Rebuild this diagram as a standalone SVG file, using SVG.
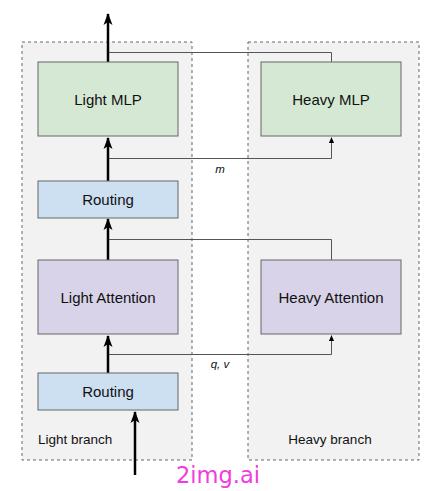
<svg xmlns="http://www.w3.org/2000/svg" width="437" height="491" viewBox="0 0 437 491">
<defs>
<marker id="bigh" viewBox="0 0 12 10" refX="11" refY="5" markerWidth="12" markerHeight="10" orient="auto" markerUnits="userSpaceOnUse">
<path d="M0,0.5 L12,5 L0,9.5 L3,5 Z" fill="#000"/>
</marker>
<marker id="small" viewBox="0 0 8 8" refX="7.5" refY="4" markerWidth="6" markerHeight="6" orient="auto" markerUnits="userSpaceOnUse">
<path d="M0,0.5 L8,4 L0,7.5 Z" fill="#000"/>
</marker>
</defs>
<style>
.cont{fill:#f2f2f2;stroke:#666;stroke-width:1;stroke-dasharray:3 3}
.box{stroke:#666;stroke-width:1}
.g{fill:#d5e8d4}
.b{fill:#cce0f2}
.p{fill:#d8d3e8}
.t{font-family:"Liberation Sans",Arial,sans-serif;font-size:15px;fill:#111;text-anchor:middle;dominant-baseline:central}
.s{font-family:"Liberation Sans",Arial,sans-serif;font-size:13.5px;fill:#111}
.i{font-family:"Liberation Sans",Arial,sans-serif;font-size:11.5px;font-style:italic;fill:#111;text-anchor:middle}
.thin{fill:none;stroke:#555;stroke-width:1}
.thick{fill:none;stroke:#000;stroke-width:2.5}
</style>
<g id="light-branch">
<rect class="cont" x="22" y="42" width="170" height="418"/>
<text class="s" x="38" y="444">Light branch</text>
</g>
<g id="heavy-branch">
<rect class="cont" x="248" y="42" width="171" height="418"/>
<text class="s" x="330" y="444" text-anchor="middle">Heavy branch</text>
</g>
<g id="connectors">
<path class="thin" d="M108,52.5 H331.5 V62"/>
<path class="thin" d="M108,158.5 H331.5 V137.5" marker-end="url(#small)"/>
<path class="thin" d="M108,239.5 H331.5 V260"/>
<path class="thin" d="M108,354.5 H331.5 V335.5" marker-end="url(#small)"/>
<path class="thick" d="M108,62 V14" marker-end="url(#bigh)"/>
<path class="thick" d="M108,181 V138" marker-end="url(#bigh)"/>
<path class="thick" d="M108,260 V219" marker-end="url(#bigh)"/>
<path class="thick" d="M108,373 V336" marker-end="url(#bigh)"/>
<path class="thick" d="M135,475 V412" marker-end="url(#bigh)"/>
<text class="i" x="220" y="173">m</text>
<text class="i" x="220" y="368">q, v</text>
</g>
<g id="light-mlp">
<rect class="box g" x="38" y="62" width="140" height="74"/>
<text class="t" x="108" y="99">Light MLP</text>
</g>
<g id="heavy-mlp">
<rect class="box g" x="261" y="62" width="140" height="74"/>
<text class="t" x="331" y="99">Heavy MLP</text>
</g>
<g id="routing-top">
<rect class="box b" x="38" y="181" width="140" height="37"/>
<text class="t" x="108" y="199.5">Routing</text>
</g>
<g id="light-attention">
<rect class="box p" x="38" y="260" width="140" height="74"/>
<text class="t" x="108" y="297">Light Attention</text>
</g>
<g id="heavy-attention">
<rect class="box p" x="261" y="260" width="140" height="74"/>
<text class="t" x="331" y="297">Heavy Attention</text>
</g>
<g id="routing-bottom">
<rect class="box b" x="38" y="373" width="140" height="37"/>
<text class="t" x="108" y="391.5">Routing</text>
</g>
<text x="218" y="483" font-family="DejaVu Sans, sans-serif" font-size="22.5" fill="#f03ce0" text-anchor="middle">2img.ai</text>
</svg>
